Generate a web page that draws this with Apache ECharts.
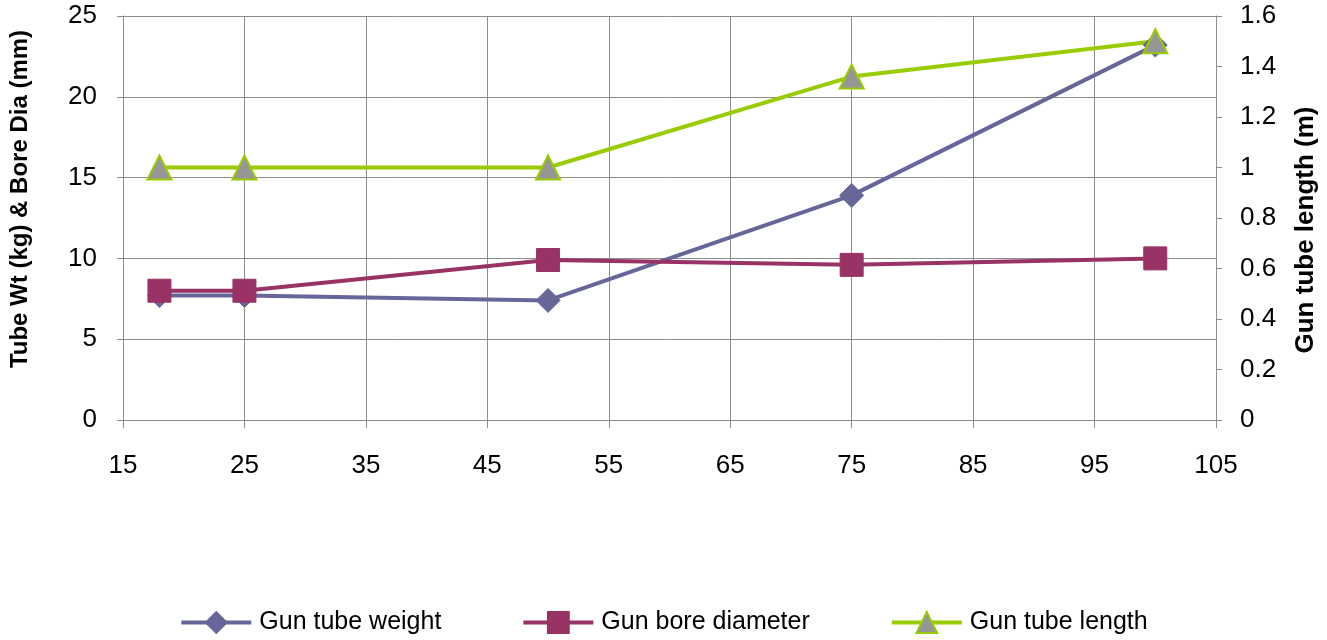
<!DOCTYPE html>
<html>
<head>
<meta charset="utf-8">
<script src="https://cdn.jsdelivr.net/npm/echarts@6/dist/echarts.min.js"></script>
<style>
  html, body { margin: 0; padding: 0; background: #fff; }
  #chart { width: 1327px; height: 640px; }
</style>
</head>
<body>
<div id="chart"></div>
<script>
// Gun size (mm) vs tube weight, bore diameter and tube length
const gunSizes = [18, 25, 50, 75, 100];
const tubeWeight = [7.7, 7.7, 7.4, 13.9, 23.2];      // kg
const boreDiameter = [8.0, 8.0, 9.9, 9.6, 10.0];     // mm
const tubeLength = [1.0, 1.0, 1.0, 1.36, 1.5];       // m

const xTicks = { min: 15, max: 105, interval: 10 };
const leftTicks = { min: 0, max: 25, interval: 5 };
const rightTicks = { min: 0, max: 1.6, interval: 0.2 };

const FONT = 'Liberation Sans, Arial, sans-serif';
const gridColor = '#8c8c8c';

function pairs(ys) { return gunSizes.map((x, i) => [x, ys[i]]); }

const chart = echarts.init(document.getElementById('chart'), null, { renderer: 'canvas' });

chart.setOption({
  animation: false,
  backgroundColor: '#ffffff',
  grid: { left: 121, right: 109, top: 16, bottom: 220, containLabel: false },
  legend: {
    bottom: 0,
    left: 'center',
    itemWidth: 70,
    itemHeight: 26,
    itemGap: 80,
    lineStyle: { width: 4 },
    textStyle: { fontFamily: FONT, fontSize: 25, color: '#000', padding: [0, 0, 0, 3] },
    data: ['Gun tube weight', 'Gun bore diameter', 'Gun tube length']
  },
  xAxis: {
    type: 'value',
    min: xTicks.min, max: xTicks.max, interval: xTicks.interval,
    axisLine: { show: true, lineStyle: { color: gridColor, width: 1 } },
    axisTick: { show: true, length: 8, lineStyle: { color: gridColor } },
    axisLabel: { fontFamily: FONT, fontSize: 26, color: '#000', margin: 33 },
    splitLine: { show: true, lineStyle: { color: gridColor, width: 1 } }
  },
  yAxis: [
    {
      type: 'value',
      position: 'left',
      min: leftTicks.min, max: leftTicks.max, interval: leftTicks.interval,
      name: 'Tube Wt (kg) & Bore Dia (mm)',
      nameLocation: 'middle',
      nameGap: 91,
      nameTextStyle: { fontFamily: FONT, fontSize: 24, fontWeight: 'bold', color: '#000',
        padding: [0, 0, 0, 38] },
      axisLine: { show: true, lineStyle: { color: gridColor, width: 1 } },
      axisTick: { show: true, length: 6, lineStyle: { color: gridColor } },
      axisLabel: { fontFamily: FONT, fontSize: 26, color: '#000', margin: 26 },
      splitLine: { show: true, lineStyle: { color: gridColor, width: 1 } }
    },
    {
      type: 'value',
      position: 'right',
      min: rightTicks.min, max: rightTicks.max, interval: rightTicks.interval,
      name: 'Gun tube length (m)',
      nameLocation: 'middle',
      nameGap: 77,
      nameRotate: 90,
      nameTextStyle: { fontFamily: FONT, fontSize: 26, fontWeight: 'bold', color: '#000',
        padding: [0, 24, 0, 0] },
      axisLine: { show: true, lineStyle: { color: gridColor, width: 1 } },
      axisTick: { show: true, length: 6, lineStyle: { color: gridColor } },
      axisLabel: { fontFamily: FONT, fontSize: 26, color: '#000', margin: 24,
        formatter: v => String(Math.round(v * 10) / 10) },
      splitLine: { show: false }
    }
  ],
  series: [
    {
      name: 'Gun tube weight',
      type: 'line',
      yAxisIndex: 0,
      data: pairs(tubeWeight),
      symbol: 'diamond',
      symbolSize: 24,
      lineStyle: { color: '#666699', width: 4 },
      itemStyle: { color: '#666699', borderColor: '#666699', borderWidth: 1 }
    },
    {
      name: 'Gun bore diameter',
      type: 'line',
      yAxisIndex: 0,
      data: pairs(boreDiameter),
      symbol: 'rect',
      symbolSize: 23,
      lineStyle: { color: '#993366', width: 4 },
      itemStyle: { color: '#993366', borderColor: '#993366', borderWidth: 1 }
    },
    {
      name: 'Gun tube length',
      type: 'line',
      yAxisIndex: 1,
      data: pairs(tubeLength),
      symbol: 'triangle',
      symbolSize: 24,
      lineStyle: { color: '#99cc00', width: 4 },
      itemStyle: { color: '#969696', borderColor: '#99cc00', borderWidth: 2 }
    }
  ]
});
</script>
</body>
</html>
